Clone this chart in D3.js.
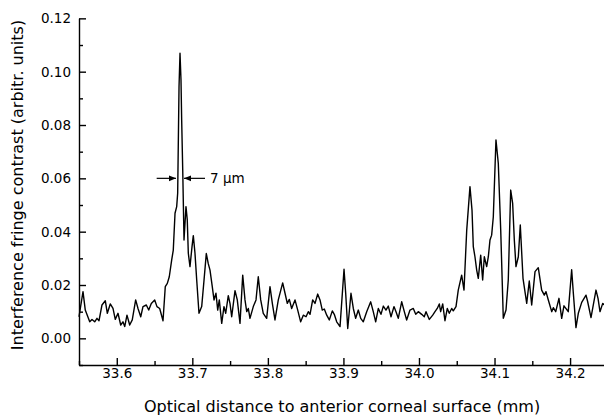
<!DOCTYPE html>
<html>
<head>
<meta charset="utf-8">
<title>fringe contrast</title>
<style>
body { margin: 0; background: #fff; }
svg text { font-family: "DejaVu Sans", "Liberation Sans", Arial, sans-serif; fill: #000; }
.axis path, .axis line { stroke: #000; stroke-width: 1.4px; }
.trace { fill: none; stroke: #000; stroke-width: 1.4px; stroke-linejoin: round; }
</style>
</head>
<body>
<script src="https://cdn.jsdelivr.net/npm/d3@7"></script>
<script>
// optical distance (mm)
var dist = [
  33.5500, 33.5553, 33.5583, 33.5642, 33.5672, 33.5708, 33.5738, 33.5765, 33.5804, 33.5848,
  33.5875, 33.5914, 33.5950, 33.5980, 33.6016, 33.6052, 33.6082, 33.6105, 33.6135, 33.6171,
  33.6205, 33.6250, 33.6281, 33.6317, 33.6347, 33.6391, 33.6423, 33.6457, 33.6502, 33.6532,
  33.6568, 33.6612, 33.6642, 33.6669, 33.6695, 33.6727, 33.6748, 33.6771, 33.6793, 33.6806,
  33.6824, 33.6837, 33.6850, 33.6859, 33.6873, 33.6890, 33.6916, 33.6933, 33.6947, 33.6969,
  33.6996, 33.7013, 33.7035, 33.7058, 33.7088, 33.7124, 33.7155, 33.7185, 33.7211, 33.7234,
  33.7264, 33.7287, 33.7313, 33.7336, 33.7357, 33.7389, 33.7419, 33.7442, 33.7476, 33.7499,
  33.7521, 33.7565, 33.7595, 33.7631, 33.7667, 33.7697, 33.7720, 33.7741, 33.7763, 33.7807,
  33.7843, 33.7873, 33.7905, 33.7939, 33.7984, 33.8028, 33.8059, 33.8094, 33.8138, 33.8196,
  33.8227, 33.8257, 33.8284, 33.8315, 33.8359, 33.8395, 33.8434, 33.8469, 33.8505, 33.8535,
  33.8558, 33.8593, 33.8624, 33.8659, 33.8690, 33.8720, 33.8747, 33.8779, 33.8813, 33.8853,
  33.8879, 33.8911, 33.8955, 33.9008, 33.9030, 33.9057, 33.9100, 33.9131, 33.9162, 33.9197,
  33.9229, 33.9263, 33.9308, 33.9361, 33.9395, 33.9427, 33.9462, 33.9497, 33.9528, 33.9563,
  33.9594, 33.9630, 33.9669, 33.9696, 33.9726, 33.9771, 33.9806, 33.9837, 33.9881, 33.9925,
  33.9957, 33.9991, 34.0036, 34.0070, 34.0093, 34.0137, 34.0182, 34.0212, 34.0242, 34.0269,
  34.0287, 34.0314, 34.0344, 34.0375, 34.0401, 34.0433, 34.0454, 34.0490, 34.0520, 34.0565,
  34.0596, 34.0632, 34.0675, 34.0702, 34.0719, 34.0741, 34.0764, 34.0785, 34.0817, 34.0843,
  34.0865, 34.0896, 34.0918, 34.0940, 34.0962, 34.0984, 34.1019, 34.1050, 34.1082, 34.1116,
  34.1152, 34.1182, 34.1214, 34.1240, 34.1262, 34.1284, 34.1315, 34.1341, 34.1377, 34.1426,
  34.1460, 34.1492, 34.1536, 34.1579, 34.1624, 34.1659, 34.1681, 34.1712, 34.1757, 34.1778,
  34.1810, 34.1853, 34.1889, 34.1919, 34.1976, 34.2021, 34.2043, 34.2078, 34.2109, 34.2154,
  34.2211, 34.2231, 34.2277, 34.2343, 34.2370, 34.2396, 34.2432, 34.2475
];
// interference fringe contrast (arbitr. units)
var contrast = [
  0.0081, 0.0175, 0.0106, 0.0062, 0.0071, 0.0062, 0.0075, 0.0066, 0.0125, 0.0141,
  0.0094, 0.0129, 0.0112, 0.0071, 0.0094, 0.0050, 0.0062, 0.0044, 0.0087, 0.0050,
  0.0069, 0.0144, 0.0112, 0.0081, 0.0119, 0.0125, 0.0106, 0.0131, 0.0144, 0.0119,
  0.0112, 0.0066, 0.0194, 0.0206, 0.0231, 0.0294, 0.0331, 0.0469, 0.0494, 0.0544,
  0.0944, 0.1069, 0.0969, 0.0819, 0.0631, 0.0369, 0.0494, 0.0444, 0.0319, 0.0269,
  0.0344, 0.0385, 0.0320, 0.0219, 0.0094, 0.0119, 0.0219, 0.0318, 0.0280, 0.0256,
  0.0194, 0.0144, 0.0169, 0.0106, 0.0144, 0.0056, 0.0119, 0.0094, 0.0160, 0.0130,
  0.0081, 0.0179, 0.0144, 0.0056, 0.0237, 0.0144, 0.0100, 0.0112, 0.0075, 0.0119,
  0.0144, 0.0231, 0.0144, 0.0094, 0.0075, 0.0194, 0.0131, 0.0069, 0.0144, 0.0208,
  0.0169, 0.0131, 0.0146, 0.0112, 0.0144, 0.0106, 0.0062, 0.0087, 0.0081, 0.0100,
  0.0090, 0.0144, 0.0131, 0.0166, 0.0144, 0.0106, 0.0110, 0.0087, 0.0069, 0.0103,
  0.0090, 0.0062, 0.0044, 0.0259, 0.0169, 0.0037, 0.0169, 0.0112, 0.0075, 0.0106,
  0.0075, 0.0062, 0.0100, 0.0137, 0.0100, 0.0062, 0.0112, 0.0090, 0.0121, 0.0106,
  0.0121, 0.0081, 0.0119, 0.0100, 0.0075, 0.0137, 0.0100, 0.0069, 0.0106, 0.0112,
  0.0090, 0.0100, 0.0090, 0.0081, 0.0100, 0.0071, 0.0087, 0.0100, 0.0112, 0.0129,
  0.0100, 0.0129, 0.0066, 0.0112, 0.0094, 0.0112, 0.0103, 0.0119, 0.0181, 0.0237,
  0.0181, 0.0406, 0.0569, 0.0481, 0.0344, 0.0306, 0.0256, 0.0225, 0.0312, 0.0219,
  0.0306, 0.0269, 0.0306, 0.0369, 0.0387, 0.0456, 0.0744, 0.0656, 0.0406, 0.0075,
  0.0106, 0.0219, 0.0556, 0.0506, 0.0369, 0.0269, 0.0306, 0.0425, 0.0225, 0.0131,
  0.0215, 0.0125, 0.0250, 0.0265, 0.0181, 0.0162, 0.0175, 0.0144, 0.0100, 0.0115,
  0.0100, 0.0150, 0.0075, 0.0122, 0.0100, 0.0257, 0.0170, 0.0040, 0.0094, 0.0135,
  0.0162, 0.0140, 0.0078, 0.0181, 0.0150, 0.0100, 0.0131, 0.0120
];

var xTicks = [33.6, 33.7, 33.8, 33.9, 34.0, 34.1, 34.2];
var xMinor = [33.55, 33.65, 33.75, 33.85, 33.95, 34.05, 34.15, 34.25];
var yTicks = [0.00, 0.02, 0.04, 0.06, 0.08, 0.10, 0.12];
var yMinor = [-0.01, 0.01, 0.03, 0.05, 0.07, 0.09, 0.11];

// width marker at half height of the main peak
var markY = 0.06;
var markLeft = [33.6528, 33.6784];   // tail, tip
var markRight = [33.7168, 33.6890];  // tail, tip
var markLabelX = 33.7234;
var markLabel = "7 µm";

var width = 604, height = 417;

var x = d3.scaleLinear().domain([33.55, 34.25]).range([79, 607.85]);
var y = d3.scaleLinear().domain([-0.01, 0.12]).range([365, 18.35]);

var svg = d3.select("body").append("svg")
    .attr("width", width)
    .attr("height", height);

var pts = dist.map(function(d, i) { return [d, contrast[i]]; });

var line = d3.line()
    .x(function(d) { return x(d[0]); })
    .y(function(d) { return y(d[1]); });

svg.append("path")
    .attr("class", "trace")
    .attr("d", line(pts));

// axes, ticks pointing into the plot
var xAxis = d3.axisBottom(x).tickValues(xTicks).tickFormat(d3.format(".1f"))
    .tickSizeInner(-7).tickSizeOuter(0).tickPadding(3);
var gx = svg.append("g").attr("class", "axis")
    .attr("transform", "translate(0," + y(-0.01) + ")")
    .call(xAxis);
gx.selectAll("text").style("font-size", "13.5px");

svg.append("g").attr("class", "axis")
    .attr("transform", "translate(0," + y(-0.01) + ")")
    .call(d3.axisBottom(x).tickValues(xMinor).tickFormat("").tickSizeInner(-4).tickSizeOuter(0))
    .select(".domain").remove();

var yAxis = d3.axisLeft(y).tickValues(yTicks).tickFormat(d3.format(".2f"))
    .tickSizeInner(-7).tickSizeOuter(0).tickPadding(8);
var gy = svg.append("g").attr("class", "axis")
    .attr("transform", "translate(" + x(33.55) + ",0)")
    .call(yAxis);
gy.selectAll("text").style("font-size", "13.5px");

svg.append("g").attr("class", "axis")
    .attr("transform", "translate(" + x(33.55) + ",0)")
    .call(d3.axisLeft(y).tickValues(yMinor).tickFormat("").tickSizeInner(-4).tickSizeOuter(0))
    .select(".domain").remove();

svg.selectAll(".axis .domain").attr("stroke-width", 1.6);

// axis titles
svg.append("text")
    .attr("x", 342)
    .attr("y", 412)
    .attr("text-anchor", "middle")
    .style("font-size", "16px")
    .text("Optical distance to anterior corneal surface (mm)");

svg.append("text")
    .attr("transform", "translate(23,185) rotate(-90)")
    .attr("text-anchor", "middle")
    .style("font-size", "16px")
    .text("Interference fringe contrast (arbitr. units)");

// arrows for the peak width
svg.append("defs").append("marker")
    .attr("id", "head")
    .attr("viewBox", "0 0 10 10")
    .attr("refX", 10).attr("refY", 5)
    .attr("markerWidth", 7).attr("markerHeight", 7)
    .attr("markerUnits", "userSpaceOnUse")
    .attr("orient", "auto")
    .append("path")
    .attr("d", "M0,1 L10,5 L0,9 Z")
    .attr("fill", "#000");

[markLeft, markRight].forEach(function(m) {
    svg.append("line")
        .attr("x1", x(m[0])).attr("x2", x(m[1]))
        .attr("y1", y(markY)).attr("y2", y(markY))
        .attr("stroke", "#000").attr("stroke-width", 1.2)
        .attr("marker-end", "url(#head)");
});

svg.append("text")
    .attr("x", x(markLabelX))
    .attr("y", y(markY) + 5)
    .style("font-size", "13.5px")
    .text(markLabel);
</script>
</body>
</html>
